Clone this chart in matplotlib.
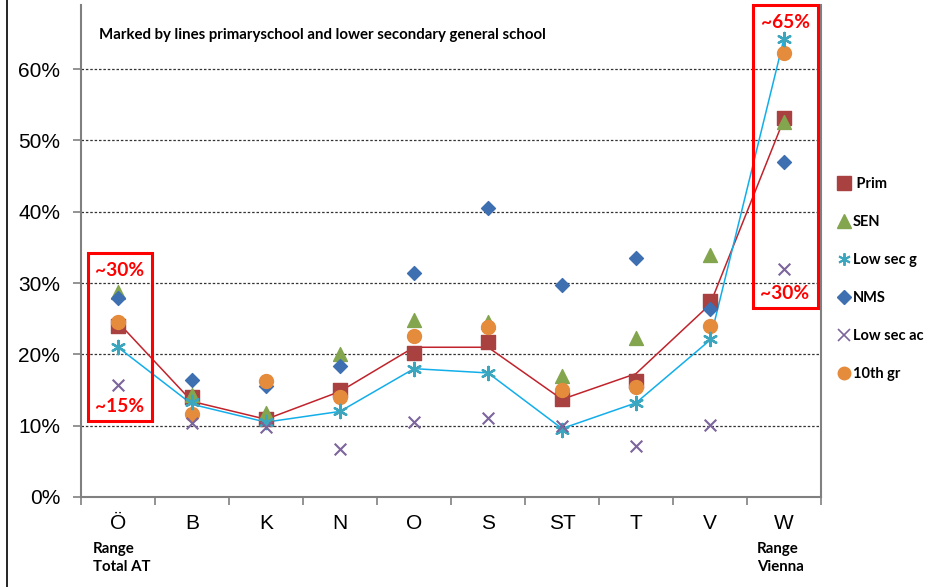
import matplotlib.pyplot as plt
from matplotlib.lines import Line2D
from matplotlib.patches import Rectangle
import numpy as np

regions = ["Ö", "B", "K", "N", "O", "S", "ST", "T", "V", "W"]

prim = [24.0, 14.0, 11.0, 15.0, 20.2, 21.8, 13.7, 16.3, 27.5, 53.2]
sen = [28.8, 14.3, 11.8, 20.0, 24.8, 24.6, 17.0, 22.3, 34.0, 52.6]
low_sec_g = [21.0, 13.3, 10.5, 12.0, 18.0, 17.4, 9.4, 13.2, 22.2, 64.3]
nms = [27.9, 16.4, 15.6, 18.4, 31.4, 40.6, 29.8, 33.5, 26.3, 47.0]
low_sec_ac = [15.7, 10.4, 9.8, 6.8, 10.5, 11.1, 10.0, 7.2, 10.1, 32.0]
tenth_gr = [24.5, 11.7, 16.3, 14.0, 22.6, 23.8, 15.0, 15.4, 24.0, 62.3]

# lines drawn in the original (slightly off the markers)
prim_line = [24.5, 13.4, 10.9, 14.8, 21.0, 21.0, 13.7, 17.3, 27.0, 53.0]
low_sec_g_line = [21.0, 13.0, 10.5, 12.0, 18.0, 17.4, 9.6, 13.2, 22.0, 64.3]

bold = "Lato"

fig = plt.figure(figsize=(9.36, 5.87), dpi=100)
ax = fig.add_axes([81 / 936, 1 - 497 / 587, (821 - 81) / 936, 492 / 587])

x = np.arange(len(regions))
pct = lambda v: np.array(v) / 100

ax.plot(x, pct(prim_line), color="#C0232B", lw=1.1, zorder=2)
ax.plot(x, pct(low_sec_g_line), color="#12AEEA", lw=1.1, zorder=2)

ax.scatter(x, pct(prim), marker="s", s=95, color="#A8413F", zorder=3)
ax.scatter(x, pct(sen), marker="^", s=100, color="#83A54E", zorder=3)
ax.scatter(x, pct(nms), marker="D", s=50, color="#3E6FB0", zorder=3)
ax.scatter(x, pct(tenth_gr), marker="o", s=100, color="#E58B3C", zorder=4)
ax.scatter(x, pct(low_sec_g), marker=(6, 2, 0), s=90, color="#3CA6BE", lw=1.7, zorder=5)
ax.scatter(x, pct(low_sec_ac), marker="x", s=70, color="#7C649C", lw=1.5, zorder=5)

ax.set_xlim(-0.5, len(regions) - 0.5)
ax.set_ylim(0, 0.69)
ax.set_yticks(np.arange(0, 0.61, 0.1))
ax.set_yticklabels([f"{int(round(v * 100))}%" for v in np.arange(0, 0.61, 0.1)],
                   fontsize=15, family="Liberation Sans")
ax.set_xticks(x)
ax.set_xticklabels(regions, fontsize=15, family="Liberation Sans")
ax.set_xticks(np.arange(-0.5, len(regions)), minor=True)
ax.tick_params(axis="x", which="major", length=0, pad=12)
ax.tick_params(axis="x", which="minor", length=6, color="#808080", width=1.2)
ax.tick_params(axis="y", length=6, color="#808080", width=1.2, pad=9)

for v in np.arange(0.1, 0.61, 0.1):
    ax.axhline(v, color="#333333", lw=0.9, ls=(0, (2, 1.5)), zorder=1)

for side in ["left", "bottom", "right"]:
    ax.spines[side].set_color("#808080")
    ax.spines[side].set_linewidth(1.5)
ax.spines["top"].set_visible(False)

ax.text(99 / 936, 1 - 35 / 587, "Marked by lines primaryschool and lower secondary general school",
        transform=fig.transFigure, fontsize=10.8, fontweight="bold", family=bold, va="center")

# red range boxes
fig.patches.append(Rectangle((88 / 936, 1 - 421 / 587), 64 / 936, 168 / 587,
                             transform=fig.transFigure, fill=False, ec="#FF0000", lw=2.2))
fig.patches.append(Rectangle((753 / 936, 1 - 308 / 587), 65 / 936, 303 / 587,
                             transform=fig.transFigure, fill=False, ec="#FF0000", lw=2.2))
red_labels = [(120, 270, "~30%"), (120, 406, "~15%"), (785, 22, "~65%"), (785, 294, "~30%")]
for px, py, t in red_labels:
    fig.text(px / 936, 1 - py / 587, t, color="#FF0000", fontsize=13.8, fontweight="bold",
             family=bold, ha="center", va="center")

fig.text(93 / 936, 1 - 558 / 587, "Range\nTotal AT", fontsize=10.8, fontweight="bold",
         family=bold, va="center", linespacing=1.3)
fig.text(757 / 936, 1 - 558 / 587, "Range\nVienna", fontsize=10.8, fontweight="bold",
         family=bold, va="center", linespacing=1.3)

# left border line of the slide
fig.add_artist(Line2D([7 / 936, 7 / 936], [0, 1], color="black", lw=1.2))

handles = [
    Line2D([], [], ls="", marker="s", ms=9.5, color="#A8413F", label=" Prim"),
    Line2D([], [], ls="", marker="^", ms=9.5, color="#83A54E", label="SEN"),
    Line2D([], [], ls="", marker=(6, 2, 0), ms=9, mew=1.4, color="#3CA6BE", label="Low sec g"),
    Line2D([], [], ls="", marker="D", ms=7, color="#3E6FB0", label="NMS"),
    Line2D([], [], ls="", marker="x", ms=8, mew=1.2, color="#7C649C", label="Low sec ac"),
    Line2D([], [], ls="", marker="o", ms=9, color="#E58B3C", label="10th gr"),
]
fig.legend(handles=handles, loc="upper left", bbox_to_anchor=(825 / 936, 1 - 164 / 587),
           frameon=False, handlelength=0.8, handletextpad=0.2, labelspacing=1.65,
           prop={"family": bold, "weight": "bold", "size": 10.5})

fig.savefig("out.png", dpi=100)
